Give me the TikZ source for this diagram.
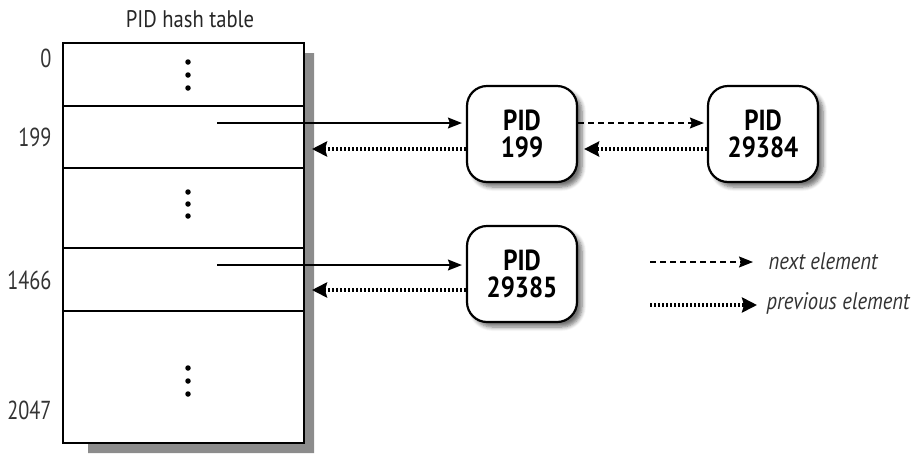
\documentclass[tikz,border=0pt]{standalone}
\usepackage{fontspec}
\setmainfont{PT Sans}[FakeStretch=0.86]
\newfontfamily\idxfont{PT Sans}[FakeStretch=0.78]
\usetikzlibrary{arrows.meta,shadows.blur}
\begin{document}
\begin{tikzpicture}[x=1pt,y=-1pt,
  pidbox/.style={draw,line width=2.2pt,rounded corners=20pt,fill=white,
    minimum width=110pt,minimum height=96pt,align=center,
    font=\fontsize{29}{27}\selectfont\bfseries,
    blur shadow={shadow xshift=5pt,shadow yshift=-5pt,shadow blur steps=6,shadow blur radius=4pt,shadow opacity=55}},
  idx/.style={font=\idxfont\fontsize{26}{28}\selectfont,anchor=east,text=black!80},
  solidarr/.style={line width=1.4pt,-{Stealth[length=14pt,width=11pt,inset=2pt]}},
  dasharr/.style={line width=1.2pt,dash pattern=on 6pt off 4pt,-{Stealth[length=14pt,width=11pt,inset=2pt]}},
  dotarr/.style={line width=3.5pt,dash pattern=on 2pt off 2pt,-{Stealth[length=15pt,width=15pt,inset=2pt]}},
  dotdot/.style={circle,fill=black,inner sep=0pt,minimum size=5.5pt}
]
\useasboundingbox (0,0) rectangle (916,459);
% table shadow
\fill[black!45] (304,53) -- (314,53) -- (314,453) -- (88,453) -- (88,443) -- (304,443) -- cycle;
% table
\node[draw,line width=1.4pt,fill=white,minimum width=241pt,minimum height=400pt,inner sep=0pt] (tbl) at (183.5,243) {};
\node[font=\fontsize{24}{26}\selectfont,text=black!85] (title) at (190,19) {PID hash table};
\draw[line width=1.4pt] (63,106) -- (304,106);
\draw[line width=1.4pt] (63,168) -- (304,168);
\draw[line width=1.4pt] (63,248) -- (304,248);
\draw[line width=1.4pt] (63,311) -- (304,311);
% dots
\foreach \y in {62,75,88,192,204,216,368,381,394} \node[dotdot] at (188,\y) {};
% index labels
\node[idx] (i0) at (55,58) {0};
\node[idx] (i199) at (55,137) {199};
\node[idx] (i1466) at (55,280) {1466};
\node[idx] (i2047) at (55,410) {2047};
% pid nodes
\node[pidbox] (p199) at (522,134) {PID\\199};
\node[pidbox] (p29384) at (763,134) {PID\\29384};
\node[pidbox] (p29385) at (522,274) {PID\\29385};
% connectors
\coordinate (s1) at (217,123);
\coordinate (b1) at (312,149);
\coordinate (s2) at (217,265);
\coordinate (b2) at (312,290);
\draw[solidarr,shorten >=4pt] (s1) -- (p199.west |- s1);
\draw[dotarr] (p199.west |- b1) -- (b1);
\draw[dasharr,shorten >=3pt] (p199.east |- s1) -- (p29384.west |- s1);
\draw[dotarr,shorten >=6pt] (p29384.west |- b1) -- (p199.east |- b1);
\draw[solidarr,shorten >=4pt] (s2) -- (p29385.west |- s2);
\draw[dotarr] (p29385.west |- b2) -- (b2);
% legend
\coordinate (l1a) at (650,262);
\coordinate (l1b) at (753,262);
\coordinate (l2a) at (650,305);
\coordinate (l2b) at (757,305);
\draw[dasharr] (l1a) -- (l1b);
\draw[dotarr] (l2a) -- (l2b);
\node[anchor=west,font=\fontsize{24}{26}\selectfont\itshape,text=black!80] (t1) at (765,261) {next element};
\node[anchor=west,font=\fontsize{24}{26}\selectfont\itshape,text=black!80] (t2) at (763,303) {previous element};
\end{tikzpicture}
\end{document}
